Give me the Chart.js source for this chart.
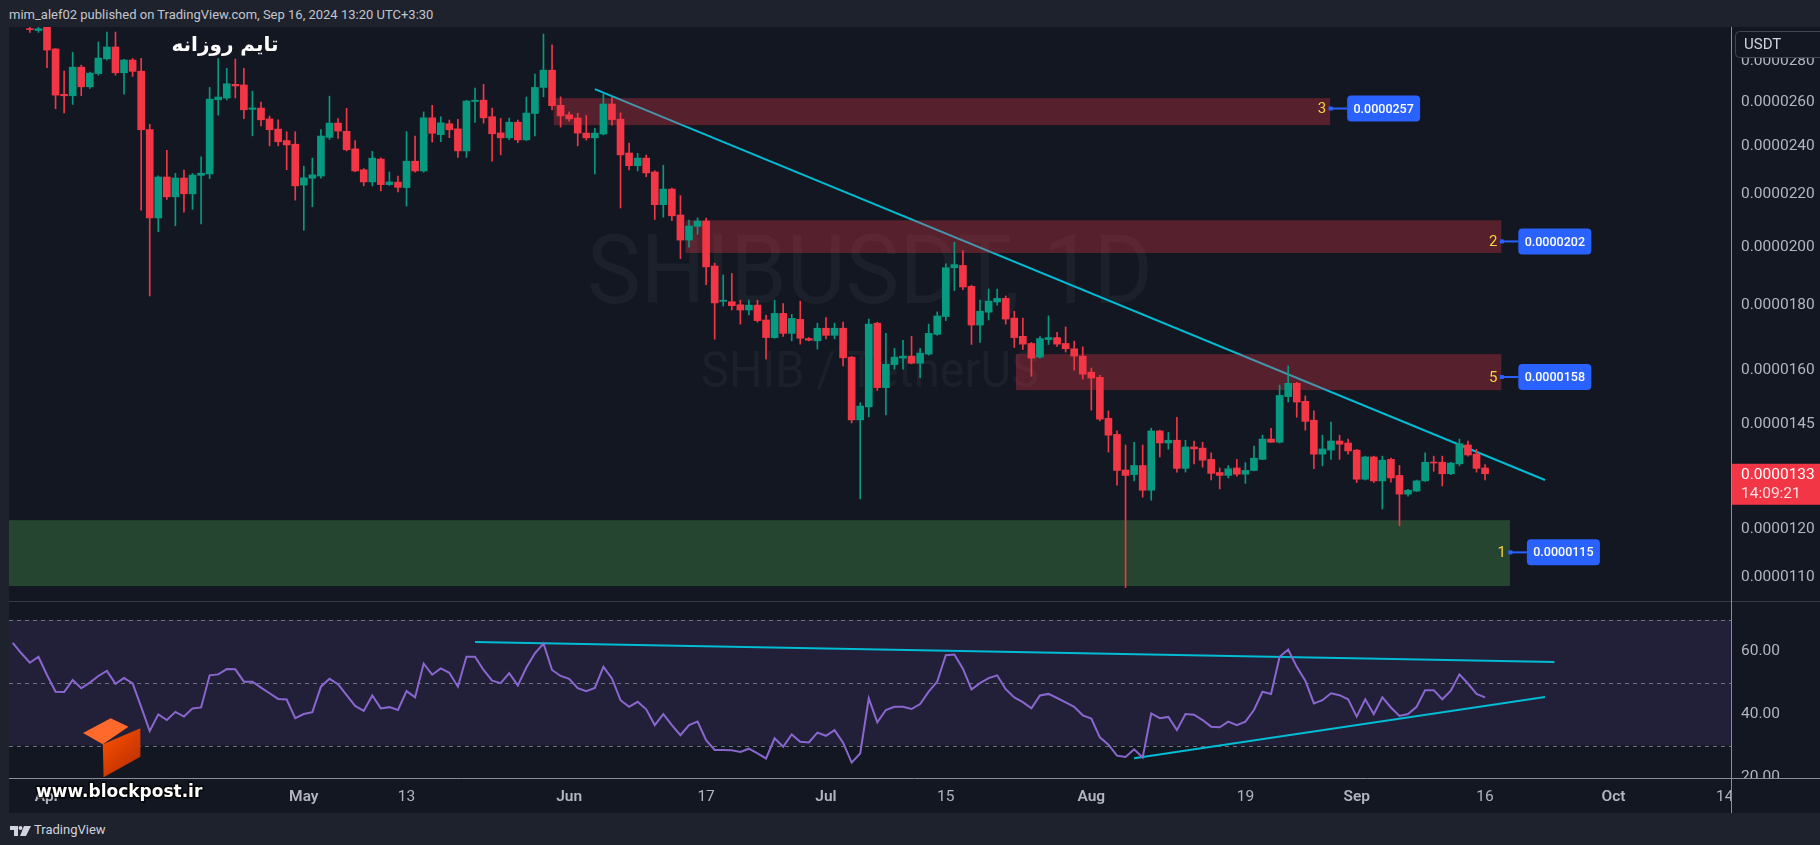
<!DOCTYPE html>
<html>
<head>
<meta charset="utf-8">
<script src="https://cdn.jsdelivr.net/npm/chart.js@4.4.1/dist/chart.umd.min.js"></script>
<style>
  html, body { margin: 0; padding: 0; width: 1820px; height: 845px; overflow: hidden; background: #1e222d; }
  #head { position: absolute; left: 0; top: 0; width: 1820px; height: 27px; background: #1e222d;
          color: #c3c6ce; font: 13px Roboto, sans-serif; line-height: 30px; padding-left: 9px; box-sizing: border-box; }
  #pricePane { position: absolute; left: 0; top: 27px; }
  #rsiPane { position: absolute; left: 0; top: 601px; }
  #foot { position: absolute; left: 0; top: 813px; width: 1820px; height: 32px; background: #1e222d; }
  #foot svg { position: absolute; left: 10px; top: 13px; }
  #foot span { position: absolute; left: 34px; top: 9px; color: #d1d4dc; font: 13px Roboto, sans-serif; }
</style>
</head>
<body>
<div id="head">mim_alef02 published on TradingView.com, Sep 16, 2024 13:20 UTC+3:30</div>
<canvas id="pricePane" width="1820" height="574"></canvas>
<canvas id="rsiPane" width="1820" height="212"></canvas>
<div id="foot">
  <svg width="21" height="10" viewBox="0 0 21 10"><path d="M0 0H8V10H4V4H0Z" fill="#d1d4dc"/><circle cx="10.5" cy="2" r="2" fill="#d1d4dc"/><path d="M14 0H21L16 10H10Z" fill="#d1d4dc"/></svg>
  <span>TradingView</span>
</div>
<script>
// daily candles, day 0 = 1 Apr 2024, prices in units of 1e-7 USDT
const firstCandleDay = -2;
const candleOpen = [
  297.0, 296.0, 299.0, 286.3, 263.7, 263.0, 277.0, 267.3, 273.8, 281.2,
  287.3, 274.2, 280.6, 275.0, 247.4, 210.8, 227.0, 219.0, 226.6, 220.2,
  227.7, 228.3, 261.1, 261.9, 268.5, 268.2, 256.6, 257.2, 252.2, 247.6,
  242.5, 240.9, 223.7, 226.5, 227.4, 243.9, 250.3, 246.6, 238.9, 230.0,
  225.0, 234.5, 223.9, 224.9, 222.7, 233.6, 229.5, 252.7, 245.1, 250.0,
  247.7, 238.0, 260.3, 260.9, 253.2, 245.9, 243.7, 250.7, 242.8, 254.7,
  267.0, 275.5, 258.5, 254.1, 252.6, 245.8, 243.7, 245.4, 259.1, 252.1,
  237.1, 231.7, 234.9, 229.1, 215.9, 222.1, 211.9, 202.5, 207.6, 209.6,
  193.2, 181.2, 181.1, 180.1, 178.4, 180.0, 175.2, 169.7, 177.3, 171.0,
  175.4, 169.4, 168.7, 172.6, 170.4, 172.6, 163.8, 146.2, 149.7, 174.2,
  155.0, 161.6, 163.5, 164.1, 162.0, 164.7, 170.7, 176.3, 192.6, 193.4,
  186.2, 173.6, 177.7, 181.0, 182.2, 175.8, 170.1, 167.9, 163.8, 169.1,
  169.7, 167.9, 166.3, 164.1, 159.4, 157.9, 146.6, 142.4, 133.5, 132.4,
  134.6, 128.7, 143.3, 140.2, 140.9, 133.9, 139.2, 138.9, 136.1, 132.9,
  132.2, 134.0, 132.5, 133.4, 136.1, 141.2, 140.4, 152.5, 156.2, 151.2,
  146.1, 137.4, 138.4, 140.7, 140.2, 138.4, 131.3, 136.7, 130.9, 136.1,
  132.2, 127.8, 128.5, 130.9, 135.4, 135.4, 132.6, 135.0, 139.7, 137.4,
  134.0
];
const candleHigh = [
  299.0, 299.0, 302.0, 286.5, 275.0, 284.6, 278.0, 274.5, 289.9, 295.2,
  295.2, 281.0, 281.4, 281.4, 249.8, 227.5, 238.2, 228.5, 229.9, 228.5,
  235.5, 267.0, 281.4, 276.4, 281.1, 276.4, 265.2, 260.0, 253.5, 251.8,
  246.4, 246.4, 231.5, 234.9, 247.4, 262.8, 252.4, 257.1, 242.5, 230.5,
  237.8, 235.0, 229.1, 227.4, 246.5, 244.5, 255.4, 258.5, 253.2, 251.7,
  252.0, 260.9, 266.7, 268.5, 257.2, 252.4, 252.6, 251.7, 262.4, 273.5,
  294.1, 288.4, 262.5, 255.5, 254.8, 253.8, 247.9, 263.7, 262.2, 255.0,
  241.4, 236.9, 236.2, 229.6, 231.9, 222.5, 219.5, 210.0, 210.8, 210.7,
  194.2, 190.1, 190.6, 181.6, 181.6, 181.6, 176.8, 181.6, 180.5, 177.0,
  181.3, 169.7, 174.2, 176.0, 174.2, 174.5, 164.0, 150.8, 175.5, 174.5,
  171.0, 166.4, 168.9, 170.1, 166.4, 173.9, 177.8, 194.0, 201.7, 198.7,
  186.6, 181.6, 185.3, 185.3, 183.0, 178.0, 175.8, 168.2, 170.0, 176.5,
  171.3, 173.0, 168.6, 166.9, 160.6, 158.5, 148.6, 143.3, 139.7, 140.4,
  139.7, 144.0, 143.5, 142.9, 146.9, 140.9, 140.7, 140.4, 137.7, 134.0,
  134.6, 136.1, 135.3, 139.4, 142.2, 144.0, 155.7, 161.2, 156.5, 152.7,
  148.6, 142.2, 145.6, 142.2, 141.2, 138.6, 136.9, 136.9, 136.9, 136.4,
  134.6, 128.9, 131.1, 137.7, 136.9, 136.9, 135.4, 141.2, 140.7, 138.6,
  134.8
];
const candleLow = [
  295.0, 295.0, 276.7, 256.9, 255.0, 258.9, 263.0, 266.5, 273.0, 280.5,
  273.0, 263.8, 272.4, 213.8, 183.0, 205.6, 218.0, 207.8, 213.0, 214.1,
  208.5, 226.4, 253.9, 261.0, 262.0, 252.3, 244.6, 249.0, 240.2, 240.2,
  230.0, 217.7, 206.1, 215.1, 226.5, 243.0, 243.5, 238.0, 229.2, 223.4,
  223.4, 221.4, 223.6, 221.0, 215.4, 229.0, 229.0, 241.8, 242.0, 243.8,
  235.2, 235.2, 250.6, 250.3, 233.6, 236.3, 242.9, 241.6, 242.5, 244.6,
  262.5, 256.3, 248.5, 251.2, 240.2, 242.7, 228.3, 245.0, 249.4, 214.6,
  229.9, 229.5, 227.1, 210.2, 211.1, 209.7, 195.8, 199.9, 204.6, 186.8,
  169.2, 179.7, 178.4, 173.9, 176.8, 174.5, 163.2, 169.5, 170.1, 168.7,
  167.7, 168.7, 166.2, 169.3, 169.3, 161.2, 145.4, 126.7, 147.0, 154.2,
  147.5, 160.3, 160.3, 161.8, 157.8, 164.4, 170.4, 175.0, 184.8, 185.1,
  167.6, 168.2, 175.2, 180.0, 173.9, 166.7, 166.1, 158.2, 163.5, 167.6,
  167.0, 165.3, 160.0, 157.4, 148.8, 145.9, 137.9, 129.9, 107.9, 130.9,
  127.1, 126.4, 136.7, 138.6, 133.0, 133.0, 135.0, 134.2, 131.1, 129.0,
  131.6, 132.0, 130.3, 133.3, 136.1, 140.4, 140.2, 151.0, 146.9, 143.5,
  133.8, 134.5, 136.1, 136.1, 137.4, 130.5, 131.1, 130.5, 124.4, 130.6,
  120.7, 127.3, 128.4, 130.8, 133.2, 129.7, 132.4, 134.5, 136.9, 133.0,
  131.1
];
const candleClose = [
  296.5, 297.0, 285.7, 263.3, 263.0, 277.0, 267.3, 274.0, 281.6, 287.3,
  274.2, 280.6, 274.9, 247.3, 210.8, 227.0, 219.0, 226.6, 220.2, 227.8,
  228.6, 261.4, 262.4, 268.8, 267.7, 256.4, 257.3, 251.8, 247.3, 242.0,
  240.6, 223.4, 226.7, 227.9, 244.5, 250.3, 246.7, 238.5, 229.5, 225.0,
  234.9, 223.9, 225.0, 222.8, 233.6, 229.5, 252.7, 245.7, 250.4, 247.3,
  238.0, 260.5, 260.9, 252.7, 245.5, 243.7, 250.7, 242.8, 254.9, 267.0,
  275.5, 258.3, 253.6, 252.2, 245.8, 243.7, 245.8, 259.1, 251.9, 236.3,
  231.7, 234.9, 228.7, 215.9, 222.1, 211.6, 202.5, 207.7, 209.6, 192.9,
  180.7, 181.6, 179.8, 178.4, 180.0, 175.0, 169.7, 177.3, 171.0, 175.7,
  169.5, 168.9, 172.6, 170.4, 172.6, 163.6, 146.2, 149.9, 173.9, 155.0,
  161.7, 163.8, 164.1, 162.0, 165.0, 171.0, 176.5, 192.6, 193.7, 186.0,
  173.6, 178.0, 181.3, 182.2, 175.5, 169.7, 167.7, 163.5, 169.4, 169.7,
  167.7, 166.3, 164.1, 158.8, 157.7, 146.4, 142.2, 133.4, 132.2, 134.6,
  128.7, 143.3, 140.2, 140.9, 133.9, 139.2, 138.7, 135.9, 132.7, 132.2,
  133.8, 132.5, 133.4, 136.4, 141.2, 140.4, 152.8, 156.2, 151.0, 145.8,
  137.4, 138.7, 140.7, 139.9, 138.2, 131.3, 136.7, 130.9, 135.9, 131.6,
  127.8, 128.7, 130.9, 135.4, 135.2, 132.6, 135.2, 140.0, 137.2, 133.9,
  132.6
];

// RSI(14), one value per day
const firstRsiDay = -4;
const rsiValues = [
  62.6, 59.3, 56.3, 58.2, 52.4, 47.1, 47.0, 50.8, 48.2, 50.0,
  52.1, 53.7, 49.6, 51.5, 49.7, 42.3, 34.6, 39.9, 38.1, 40.7,
  39.2, 41.8, 42.1, 52.3, 52.6, 54.3, 54.2, 50.3, 50.3, 48.4,
  46.6, 44.8, 44.6, 38.7, 40.0, 40.6, 48.7, 51.2, 49.5, 46.0,
  42.6, 41.0, 45.9, 41.8, 42.2, 41.3, 47.3, 45.3, 56.0, 52.5,
  54.5, 53.1, 48.7, 58.2, 58.2, 54.0, 50.6, 49.8, 53.0, 49.1,
  54.8, 59.3, 62.4, 54.0, 52.1, 51.2, 48.2, 47.3, 48.3, 55.0,
  51.3, 44.4, 42.3, 43.9, 41.5, 36.5, 40.0, 36.5, 33.3, 36.5,
  37.6, 31.7, 28.6, 28.6, 28.5, 28.0, 29.0, 27.5, 25.9, 32.3,
  29.6, 33.5, 31.2, 31.0, 34.1, 33.1, 34.9, 30.9, 24.6, 27.5,
  45.0, 37.4, 41.3, 42.3, 42.3, 41.6, 43.2, 47.1, 50.3, 58.7,
  58.9, 54.4, 47.8, 49.8, 51.4, 52.3, 47.9, 45.3, 43.8, 41.8,
  45.9, 46.4, 45.1, 43.7, 42.3, 39.6, 38.6, 32.6, 30.3, 26.8,
  26.4, 28.8, 26.2, 40.2, 38.7, 39.1, 34.9, 40.0, 39.8, 38.1,
  36.0, 35.8, 37.6, 36.5, 37.6, 41.3, 47.1, 46.4, 58.2, 60.5,
  55.0, 50.6, 43.4, 44.4, 46.6, 46.0, 44.7, 39.2, 44.7, 40.0,
  45.3, 42.1, 39.4, 40.0, 42.3, 47.6, 47.6, 44.7, 47.4, 52.6,
  49.7, 46.4, 45.3
];

// drawings: price trend line and rsi trend lines (day, value)
const priceTrendDays = [64.0, 175.0];
const priceTrendValues = [266.2, 131.1];
const rsiUpperDays = [50.0, 176.1];
const rsiUpperValues = [62.9, 56.5];
const rsiLowerDays = [127.0, 175.0];
const rsiLowerValues = [26.0, 45.4];

// zones
const zoneTags = ['3', '2', '5', '1'];
const zoneStartDays = [59.2, 74.6, 113.2, -10];
const zoneEndDays = [149.9, 169.9, 169.9, 170.9];
const zoneTops = [261.9, 209.9, 164.7, 121.9];
const zoneBottoms = [249.4, 197.8, 154.3, 108.2];
const zoneLevels = [257, 202, 158, 115];
const zoneKinds = ['supply', 'supply', 'supply', 'demand'];

// axes
const priceTicks = [110, 120, 145, 160, 180, 200, 220, 240, 260, 280];
const rsiTicks = [20, 40, 60];
const timeTickDays = [0, 30, 42, 61, 77, 91, 105, 122, 140, 153, 168, 183, 196];
const timeTickLabels = ['Apr', 'May', '13', 'Jun', '17', 'Jul', '15', 'Aug', '19', 'Sep', '16', 'Oct', '14'];
const monthTicks = [0, 30, 61, 91, 122, 153, 183];

const BG = '#131722';
const PANEL = '#1e222d';
const UP = '#089981';
const DOWN = '#f23645';
const AXIS_TEXT = '#b2b5be';
const AXIS_LINE = '#8a8d96';

const candleDays = candleOpen.map((_, i) => firstCandleDay + i);
const candleColors = candleOpen.map((o, i) => candleClose[i] >= o ? UP : DOWN);
const bodies = candleDays.map((d, i) => ({ x: d, y: [candleOpen[i], candleClose[i]] }));
const wicks = candleDays.map((d, i) => ({ x: d, y: [candleLow[i], candleHigh[i]] }));
const pairs = (xs, ys) => xs.map((x, i) => ({ x: x, y: ys[i] }));

const pricePlugin = {
    id: 'pricePane',
    beforeDraw(chart) {
        const c = chart.ctx, ca = chart.chartArea;
        c.save();
        c.fillStyle = BG;
        c.fillRect(0, 0, chart.width, chart.height);
        c.fillStyle = PANEL;
        c.fillRect(0, 0, ca.left, chart.height);
        // symbol watermark
        c.fillStyle = 'rgba(255,255,255,0.04)';
        c.textAlign = 'center';
        c.textBaseline = 'alphabetic';
        c.font = '96px Roboto';
        c.fillText('SHIBUSDT, 1D', 870, 276, 566);
        c.font = '50px Roboto';
        c.fillText('SHIB / TetherUS', 870, 360, 338);
        c.restore();
    },
    afterDatasetDraw(chart, args) {
        // zones sit above the trend line but under the candles
        if (args.index !== 0) return;
        const c = chart.ctx, ca = chart.chartArea;
        const xs = chart.scales.x, ys = chart.scales.y;
        c.save();
        c.beginPath();
        c.rect(ca.left, ca.top, ca.right - ca.left, ca.bottom - ca.top);
        c.clip();
        zoneTags.forEach((t, i) => {
            const x0 = Math.max(xs.getPixelForValue(zoneStartDays[i]), ca.left);
            const x1 = xs.getPixelForValue(zoneEndDays[i]);
            const y0 = ys.getPixelForValue(zoneTops[i]);
            const y1 = ys.getPixelForValue(zoneBottoms[i]);
            c.fillStyle = zoneKinds[i] === 'demand' ? 'rgba(76,175,80,0.31)' : 'rgba(242,54,69,0.3)';
            c.fillRect(x0, y0, x1 - x0, y1 - y0);
        });
        c.restore();
    },
    afterDraw(chart) {
        const c = chart.ctx, ca = chart.chartArea;
        const xs = chart.scales.x, ys = chart.scales.y;
        c.save();
        // zone callouts
        zoneTags.forEach((tag, i) => {
            const xr = xs.getPixelForValue(zoneEndDays[i]);
            const yl = ys.getPixelForValue(zoneLevels[i]);
            c.fillStyle = '#f7d23e';
            c.font = '15px Roboto';
            c.textAlign = 'right';
            c.textBaseline = 'middle';
            c.fillText(tag, xr - 4, yl + 1);
            c.strokeStyle = '#2962ff';
            c.lineWidth = 2;
            c.beginPath();
            c.moveTo(xr, yl);
            c.lineTo(xr + 17, yl);
            c.stroke();
            c.fillStyle = '#2962ff';
            c.fillRect(xr - 1.5, yl - 2, 4, 4);
            c.beginPath();
            c.roundRect(xr + 17, yl - 13, 73, 26, 4);
            c.fill();
            c.fillStyle = '#ffffff';
            c.font = '500 12.5px Roboto';
            c.textAlign = 'center';
            c.fillText((zoneLevels[i] / 1e7).toFixed(7), xr + 53.5, yl + 1);
        });
        // title
        c.fillStyle = '#ffffff';
        c.font = 'bold 20px "DejaVu Sans"';
        c.direction = 'rtl';
        c.textAlign = 'center';
        c.textBaseline = 'middle';
        c.fillText('تایم روزانه', 225, 19);
        c.direction = 'ltr';
        // axis border
        c.strokeStyle = AXIS_LINE;
        c.lineWidth = 1;
        c.beginPath();
        c.moveTo(ca.right + 0.5, 0);
        c.lineTo(ca.right + 0.5, chart.height);
        c.stroke();
        // currency button
        c.beginPath();
        c.roundRect(ca.right + 4.5, 4.5, 92, 26, 4);
        c.fillStyle = BG;
        c.fill();
        c.strokeStyle = '#434651';
        c.stroke();
        c.fillStyle = '#d1d4dc';
        c.font = '15px Roboto';
        c.textAlign = 'left';
        c.fillText('USDT', ca.right + 13, 18);
        // last price label
        const last = candleClose[candleClose.length - 1];
        const yp = ys.getPixelForValue(last);
        c.fillStyle = DOWN;
        c.fillRect(ca.right + 1, yp - 10, chart.width - ca.right, 41);
        c.fillStyle = '#ffffff';
        c.font = '15.5px Roboto';
        c.fillText((last / 1e7).toFixed(7), ca.right + 10, yp + 1);
        c.fillStyle = 'rgba(255,255,255,0.85)';
        c.fillText('14:09:21', ca.right + 10, yp + 20);
        c.restore();
    }
};

const rsiPlugin = {
    id: 'rsiPane',
    beforeDraw(chart) {
        const c = chart.ctx, ca = chart.chartArea;
        c.save();
        c.fillStyle = BG;
        c.fillRect(0, 0, chart.width, chart.height);
        c.fillStyle = PANEL;
        c.fillRect(0, 0, ca.left, chart.height);
        c.restore();
    },
    beforeDatasetsDraw(chart) {
        const c = chart.ctx, ca = chart.chartArea, ys = chart.scales.y;
        c.save();
        const y70 = ys.getPixelForValue(70), y30 = ys.getPixelForValue(30);
        c.fillStyle = 'rgba(126,87,194,0.14)';
        c.fillRect(ca.left, y70, ca.right - ca.left, y30 - y70);
        c.strokeStyle = 'rgba(120,123,134,0.9)';
        c.lineWidth = 1;
        c.setLineDash([4, 4]);
        [70, 50, 30].forEach(v => {
            const y = Math.round(ys.getPixelForValue(v)) + 0.5;
            c.beginPath();
            c.moveTo(ca.left, y);
            c.lineTo(ca.right, y);
            c.stroke();
        });
        c.restore();
    },
    afterDraw(chart) {
        const c = chart.ctx, ca = chart.chartArea;
        c.save();
        c.fillStyle = BG;
        c.fillRect(ca.right + 1, ca.bottom + 1, chart.width, chart.height);
        c.lineWidth = 1;
        c.strokeStyle = '#363a45';
        c.beginPath();
        c.moveTo(ca.left, 0.5);
        c.lineTo(chart.width, 0.5);
        c.stroke();
        c.strokeStyle = AXIS_LINE;
        c.beginPath();
        c.moveTo(ca.left, ca.bottom + 0.5);
        c.lineTo(chart.width, ca.bottom + 0.5);
        c.stroke();
        c.beginPath();
        c.moveTo(ca.right + 0.5, 0);
        c.lineTo(ca.right + 0.5, chart.height);
        c.stroke();
        // blockpost watermark
        c.fillStyle = '#ff6a2c';
        c.beginPath();
        c.moveTo(83, 132); c.lineTo(110.7, 117.3); c.lineTo(128.5, 125.7); c.lineTo(102.8, 143.3);
        c.closePath(); c.fill();
        const g = c.createLinearGradient(103, 130, 140, 170);
        g.addColorStop(0, '#ff5200');
        g.addColorStop(1, '#b52c00');
        c.fillStyle = g;
        c.beginPath();
        c.moveTo(102.8, 143.3); c.lineTo(140.4, 127.3); c.lineTo(140.4, 155.7); c.lineTo(103.6, 176.3);
        c.closePath(); c.fill();
        c.font = 'bold 17px "DejaVu Sans"';
        c.textAlign = 'left';
        c.textBaseline = 'middle';
        c.lineJoin = 'round';
        c.lineWidth = 3;
        c.strokeStyle = 'rgba(0,0,0,0.8)';
        c.strokeText('www.blockpost.ir', 36, 192, 189);
        c.fillStyle = '#ffffff';
        c.fillText('www.blockpost.ir', 36, 192, 189);
        c.restore();
    }
};

const xRange = { min: -4.44, max: 196.73 };

new Chart(document.getElementById('pricePane'), {
    type: 'bar',
    data: {
        datasets: [{
            type: 'line',
            data: pairs(priceTrendDays, priceTrendValues),
            borderColor: '#00bcd4',
            borderWidth: 2,
            pointRadius: 0,
            order: 3
        }, {
            data: wicks,
            backgroundColor: candleColors,
            barThickness: 1,
            grouped: false,
            order: 2
        }, {
            data: bodies,
            backgroundColor: candleColors,
            barThickness: 7,
            minBarLength: 1,
            grouped: false,
            order: 1
        }]
    },
    options: {
        animation: false,
        responsive: false,
        maintainAspectRatio: false,
        layout: { padding: { left: 9, top: 0, right: 0, bottom: 0 } },
        plugins: { legend: { display: false }, tooltip: { enabled: false } },
        scales: {
            x: { type: 'linear', display: false, offset: false, min: xRange.min, max: xRange.max },
            y: {
                type: 'logarithmic',
                position: 'right',
                min: 105.3,
                max: 297.9,
                grid: { display: false, drawTicks: false },
                border: { display: false },
                afterBuildTicks: s => { s.ticks = priceTicks.map(v => ({ value: v })); },
                afterFit: s => { s.width = 89; s.paddingTop = 0; s.paddingBottom = 0; },
                ticks: {
                    padding: 10,
                    color: AXIS_TEXT,
                    font: { family: 'Roboto', size: 15.5 },
                    callback: v => (v / 1e7).toFixed(7)
                }
            }
        }
    },
    plugins: [pricePlugin]
});

new Chart(document.getElementById('rsiPane'), {
    type: 'line',
    data: {
        datasets: [{
            data: rsiValues.map((v, i) => ({ x: firstRsiDay + i, y: v })),
            borderColor: '#8a67cf',
            borderWidth: 2,
            pointRadius: 0
        }, {
            data: pairs(rsiUpperDays, rsiUpperValues),
            borderColor: '#00bcd4',
            borderWidth: 2,
            pointRadius: 0
        }, {
            data: pairs(rsiLowerDays, rsiLowerValues),
            borderColor: '#00bcd4',
            borderWidth: 2,
            pointRadius: 0
        }]
    },
    options: {
        animation: false,
        responsive: false,
        maintainAspectRatio: false,
        layout: { padding: { left: 9, top: 0, right: 0, bottom: 0 } },
        plugins: { legend: { display: false }, tooltip: { enabled: false } },
        scales: {
            x: {
                type: 'linear',
                offset: false,
                min: xRange.min,
                max: xRange.max,
                grid: { display: false, drawTicks: false },
                border: { display: false },
                afterBuildTicks: s => { s.ticks = timeTickDays.map(v => ({ value: v })); },
                afterFit: s => { s.height = 35; s.paddingLeft = 0; s.paddingRight = 0; },
                ticks: {
                    autoSkip: false,
                    maxRotation: 0,
                    padding: 10,
                    color: AXIS_TEXT,
                    font: ctx => ({ family: 'Roboto', size: 15.5, weight: monthTicks.includes(ctx.tick && ctx.tick.value) ? '600' : '400' }),
                    callback: v => timeTickLabels[timeTickDays.indexOf(v)]
                }
            },
            y: {
                position: 'right',
                min: 19.7,
                max: 75.9,
                grid: { display: false, drawTicks: false },
                border: { display: false },
                afterBuildTicks: s => { s.ticks = rsiTicks.map(v => ({ value: v })); },
                afterFit: s => { s.width = 89; s.paddingTop = 0; s.paddingBottom = 0; },
                ticks: {
                    padding: 10,
                    color: AXIS_TEXT,
                    font: { family: 'Roboto', size: 15.5 },
                    callback: v => v.toFixed(2)
                }
            }
        }
    },
    plugins: [rsiPlugin]
});
</script>
</body>
</html>
